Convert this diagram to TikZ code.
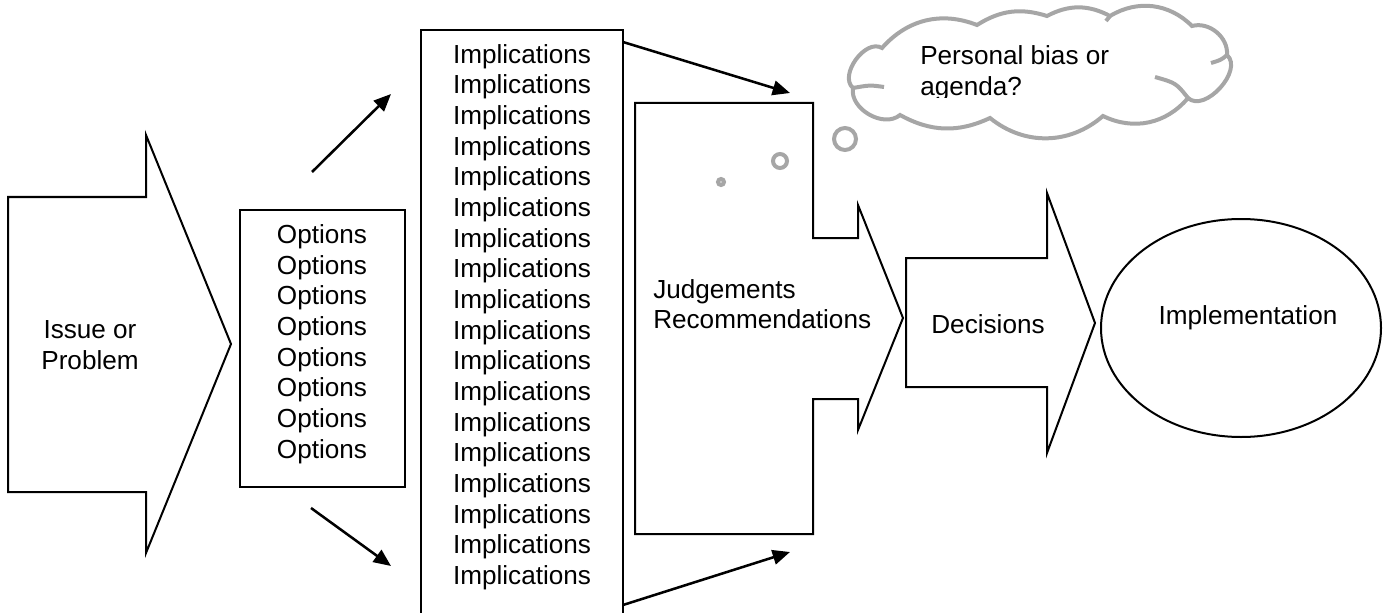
\documentclass[tikz,border=0pt]{standalone}
\usepackage{fontspec}
\setmainfont{Liberation Sans}
\usetikzlibrary{arrows.meta,shapes.geometric}
\definecolor{cloudgray}{RGB}{166,166,166}
\begin{document}
\begin{tikzpicture}[x=0.75pt,y=-0.75pt,
  outline/.style={draw=black,line width=1.5pt,line join=miter,fill=white},
  lbl/.style={font=\fontsize{19.6pt}{23pt}\selectfont,inner sep=0pt,align=center},
  link/.style={line width=1.9pt,-{Triangle[length=13pt,width=11pt]}},
  thought/.style={draw=cloudgray,line width=3pt,fill=white},
  flick/.style={draw=cloudgray,line width=3pt},
]
\useasboundingbox (0,0) rectangle (1388,613);
\clip (0,0) rectangle (1388,613);

% issue arrow
\draw[outline] (8,197) -- (146,197) -- (146,135) -- (231,344) -- (146,553)
  -- (146,492) -- (8,492) -- cycle;
\node[lbl] (issue) at (90,345) {Issue or\\Problem};

% options box
\draw[outline] (240,210) rectangle (405,487);
\node[lbl] (options) at (322,344) {Options\\Options\\Options\\Options\\Options\\Options\\Options\\Options};

% implications column (runs past the lower edge)
\draw[outline] (421,30) rectangle (623,650);
\node[lbl] (impl) at (522,317) {Implications\\Implications\\Implications\\Implications\\Implications\\Implications\\Implications\\Implications\\Implications\\Implications\\Implications\\Implications\\Implications\\Implications\\Implications\\Implications\\Implications\\Implications};

% judgements block with its arrow head
\draw[outline] (635,103) -- (813,103) -- (813,238) -- (858,238) -- (858,205)
  -- (903,318) -- (858,430) -- (858,399) -- (813,399) -- (813,534)
  -- (635,534) -- cycle;
\node[lbl,align=left,anchor=west] (judge) at (653,304) {Judgements\\Recommendations};

% decisions arrow
\draw[outline] (906,258) -- (1047,258) -- (1047,193) -- (1095,323) -- (1047,453)
  -- (1047,387) -- (906,387) -- cycle;
\node[lbl] (decide) at (988,324) {Decisions};

% implementation
\node[ellipse,draw,line width=1.5pt,minimum width=210pt,minimum height=163.5pt,inner sep=0pt] (implem) at (1241,328) {};
\node[lbl] (implemtext) at (1248,318) {Implementation};

% thought cloud: outline of puffs, then the short inner ends of some puffs
\draw[thought] (882,48) to[bend left=35] (977,25) to[bend left=25] (1047,16)
  to[bend left=28] (1110,16) to[bend left=38] (1192,26) to[bend left=55] (1227,55)
  to[bend left=90] (1188,98) to[bend left=38] (1103,116) to[bend left=40] (990,118)
  to[bend left=27] (900,115) to[bend left=70] (853,88) to[bend left=85] (882,48) -- cycle;
\draw[flick] (884,87) .. controls (870,85) .. (853,88);
\draw[flick] (1155,77) .. controls (1176,83) .. (1188,98);
\draw[flick] (1211,63) .. controls (1221,60) .. (1227,55);
\draw[flick] (1106,21) .. controls (1108,18) .. (1110,16);
\begin{scope}
  \clip (900,20) rectangle (1200,98);
  \node[lbl,align=left,anchor=west] (bias) at (920,73) {Personal bias or\\agenda?};
\end{scope}
\node[circle,thought,minimum size=16.5pt,inner sep=0pt] (b1) at (845,139) {};
\node[circle,thought,minimum size=10.5pt,inner sep=0pt] (b2) at (780,161) {};
\node[circle,thought,minimum size=4.5pt,inner sep=0pt] (b3) at (721,182) {};

% connectors
\coordinate (a1s) at (312,172);
\coordinate (a1e) at (391,94);
\coordinate (a2s) at (311,508);
\coordinate (a2e) at (391,566);
\coordinate (a3s) at (623,42);
\coordinate (a3e) at (790,93);
\coordinate (a4s) at (623,605);
\coordinate (a4e) at (790,552);
\draw[link] (a1s) -- (a1e);
\draw[link] (a2s) -- (a2e);
\draw[link] (a3s) -- (a3e);
\draw[link] (a4s) -- (a4e);
\end{tikzpicture}
\end{document}
